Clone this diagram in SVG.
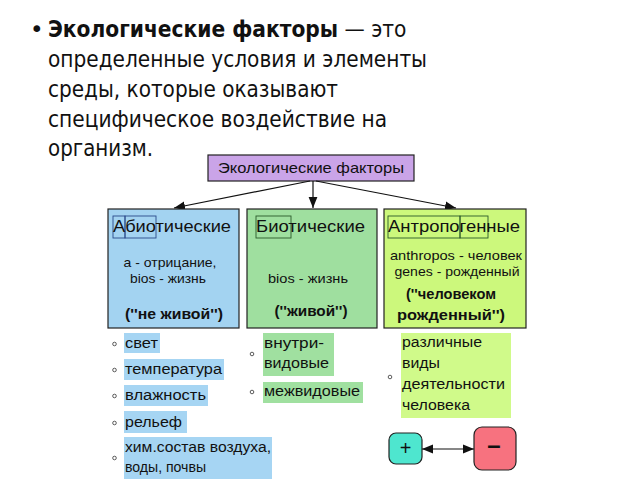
<svg xmlns="http://www.w3.org/2000/svg" width="640" height="480" viewBox="0 0 640 480">
<defs>
<style>
.h{font-family:"DejaVu Sans",sans-serif;font-size:23px;fill:#111}
.d{font-family:"Liberation Sans",Arial,sans-serif;fill:#111}
.t{font-size:16px}
.s{font-size:13px}
.b{font-size:14px;font-weight:bold}
.l{font-size:14px}
.box{stroke:#222;stroke-width:1.2}
.ib{fill:none;stroke:#2a4a8a;stroke-width:0.9}
.ig{fill:none;stroke:#2a5a2a;stroke-width:0.9}
.con{stroke:#111;stroke-width:1.2;fill:none}
.bul{fill:none;stroke:#333;stroke-width:0.8}
</style>
<marker id="ah" viewBox="0 0 10 10" refX="10" refY="5" markerWidth="11" markerHeight="11" markerUnits="userSpaceOnUse" orient="auto">
<path d="M0,1 L10,5 L0,9 z" fill="#111"/>
</marker>
<marker id="ah2" viewBox="0 0 10 10" refX="10" refY="5" markerWidth="11" markerHeight="11" markerUnits="userSpaceOnUse" orient="auto-start-reverse">
<path d="M0,1 L10,5 L0,9 z" fill="#111"/>
</marker>
</defs>
<rect width="640" height="480" fill="#fff"/>

<g id="heading" class="h">
<text x="30" y="37">•</text>
<g transform="translate(48,37) scale(0.88,1)">
<text x="0" y="0"><tspan font-weight="bold">Экологические факторы</tspan> — это</text>
</g>
<text x="48" y="67" textLength="379" lengthAdjust="spacingAndGlyphs">определенные условия и элементы</text>
<text x="48" y="97" textLength="290" lengthAdjust="spacingAndGlyphs">среды, которые оказывают</text>
<text x="48" y="127" textLength="339" lengthAdjust="spacingAndGlyphs">специфическое воздействие на</text>
<text x="48" y="156" textLength="105" lengthAdjust="spacingAndGlyphs">организм.</text>
</g>

<g id="root">
<rect class="box" x="208" y="155" width="206" height="26" fill="#caa4e8"/>
<text class="d" font-size="14.5" x="311" y="173" text-anchor="middle" textLength="186" lengthAdjust="spacingAndGlyphs">Экологические факторы</text>
</g>

<g id="connectors">
<line class="con" x1="313" y1="181" x2="313" y2="208" marker-end="url(#ah)"/>
<line class="con" x1="310" y1="181" x2="174" y2="208" marker-end="url(#ah)"/>
<line class="con" x1="316" y1="181" x2="456" y2="208" marker-end="url(#ah)"/>
<line class="con" x1="422" y1="449" x2="474" y2="449" marker-start="url(#ah2)" marker-end="url(#ah2)"/>
</g>

<g id="abiotic">
<rect class="box" x="108" y="209" width="131" height="119" fill="#a3d3f1"/>
<rect class="ib" x="113" y="216" width="12" height="22"/>
<rect class="ib" x="125" y="216" width="31" height="22"/>
<text class="d t" x="113" y="232" textLength="118" lengthAdjust="spacingAndGlyphs">Абиотические</text>
<text class="d s" x="170" y="267" text-anchor="middle" textLength="93" lengthAdjust="spacingAndGlyphs">а - отрицание,</text>
<text class="d s" x="168" y="283" text-anchor="middle" textLength="76" lengthAdjust="spacingAndGlyphs">bios - жизнь</text>
<text class="d b" x="174" y="319" text-anchor="middle" textLength="98" lengthAdjust="spacingAndGlyphs">(''не живой'')</text>
</g>

<g id="biotic">
<rect class="box" x="247" y="209" width="130" height="119" fill="#9fdf9f"/>
<rect class="ig" x="256" y="216" width="35" height="22"/>
<text class="d t" x="256" y="232" textLength="109" lengthAdjust="spacingAndGlyphs">Биотические</text>
<text class="d s" x="308" y="283" text-anchor="middle" textLength="80" lengthAdjust="spacingAndGlyphs">bios - жизнь</text>
<text class="d b" x="311" y="316" text-anchor="middle" textLength="73" lengthAdjust="spacingAndGlyphs">(''живой'')</text>
</g>

<g id="anthropogenic">
<rect class="box" x="384" y="209" width="142" height="119" fill="#ccf87c"/>
<rect class="ig" x="388" y="216" width="72" height="22"/>
<rect class="ig" x="460" y="216" width="28" height="22"/>
<text class="d t" x="388" y="232" textLength="132" lengthAdjust="spacingAndGlyphs">Антропогенные</text>
<text class="d s" x="456" y="260" text-anchor="middle" textLength="132" lengthAdjust="spacingAndGlyphs">anthropos - человек</text>
<text class="d s" x="457" y="276" text-anchor="middle" textLength="125" lengthAdjust="spacingAndGlyphs">genes - рожденный</text>
<text class="d b" x="451" y="299" text-anchor="middle" textLength="90" lengthAdjust="spacingAndGlyphs">(''человеком</text>
<text class="d b" x="451" y="320" text-anchor="middle" textLength="108" lengthAdjust="spacingAndGlyphs">рожденный'')</text>
</g>

<g id="abiotic-list">
<rect x="124" y="333" width="36" height="20" fill="#a6d5f3"/>
<rect x="124" y="359" width="100" height="21" fill="#a6d5f3"/>
<rect x="124" y="385" width="84" height="21" fill="#a6d5f3"/>
<rect x="124" y="411" width="63" height="22" fill="#a6d5f3"/>
<rect x="124" y="437" width="148" height="42" fill="#a6d5f3"/>
<circle class="bul" cx="114.5" cy="344" r="1.8"/>
<circle class="bul" cx="114.5" cy="370" r="1.8"/>
<circle class="bul" cx="114.5" cy="396" r="1.8"/>
<circle class="bul" cx="114.5" cy="423" r="1.8"/>
<circle class="bul" cx="114.5" cy="458" r="1.8"/>
<text class="d l" x="125" y="348" textLength="33" lengthAdjust="spacingAndGlyphs">свет</text>
<text class="d l" x="125" y="374" textLength="97" lengthAdjust="spacingAndGlyphs">температура</text>
<text class="d l" x="125" y="400" textLength="81" lengthAdjust="spacingAndGlyphs">влажность</text>
<text class="d l" x="125" y="427" textLength="57" lengthAdjust="spacingAndGlyphs">рельеф</text>
<text class="d l" x="125" y="452" textLength="146" lengthAdjust="spacingAndGlyphs">хим.состав воздуха,</text>
<text class="d l" x="125" y="472" textLength="81" lengthAdjust="spacingAndGlyphs">воды, почвы</text>
</g>

<g id="biotic-list">
<rect x="263" y="333" width="71" height="43" fill="#a0e0a0"/>
<rect x="263" y="382" width="100" height="21" fill="#a0e0a0"/>
<circle class="bul" cx="252" cy="354" r="1.8"/>
<circle class="bul" cx="252" cy="392" r="1.8"/>
<text class="d l" x="264" y="348" textLength="60" lengthAdjust="spacingAndGlyphs">внутри-</text>
<text class="d l" x="264" y="368" textLength="65" lengthAdjust="spacingAndGlyphs">видовые</text>
<text class="d l" x="264" y="396" textLength="96" lengthAdjust="spacingAndGlyphs">межвидовые</text>
</g>

<g id="anthropogenic-list">
<rect x="401" y="333" width="110" height="85" fill="#d0fa8a"/>
<circle class="bul" cx="390" cy="377" r="1.8"/>
<text class="d l" x="402" y="347" textLength="80" lengthAdjust="spacingAndGlyphs">различные</text>
<text class="d l" x="402" y="368" textLength="38" lengthAdjust="spacingAndGlyphs">виды</text>
<text class="d l" x="402" y="389" textLength="103" lengthAdjust="spacingAndGlyphs">деятельности</text>
<text class="d l" x="402" y="410" textLength="68" lengthAdjust="spacingAndGlyphs">человека</text>
</g>

<g id="plus">
<rect x="389" y="433" width="33" height="31" rx="7" fill="#4ee6cf" stroke="#222" stroke-width="1.2"/>
<text class="d" x="405.5" y="455" text-anchor="middle" font-size="20" fill="#2a5a50">+</text>
</g>

<g id="minus">
<rect x="474" y="427" width="42" height="43" rx="8" fill="#f7727f" stroke="#222" stroke-width="1.2"/>
<text class="d" x="494" y="453" text-anchor="middle" font-size="24" font-weight="bold">–</text>
</g>
</svg>
